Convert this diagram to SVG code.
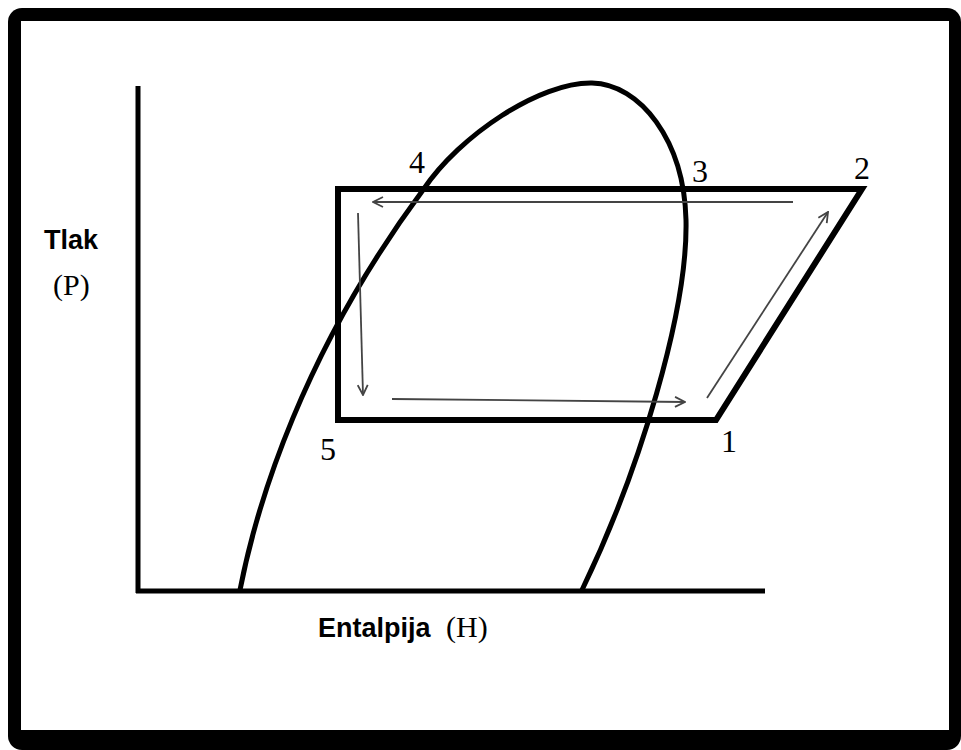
<svg xmlns="http://www.w3.org/2000/svg" width="961" height="750" viewBox="0 0 961 750">
  <style>
    .ax { stroke: #000; stroke-width: 5; fill: none; }
    .cyc { stroke: #000; stroke-width: 6; fill: none; stroke-linejoin: miter; }
    .dome { stroke: #000; stroke-width: 5; fill: none; }
    .arr { stroke: #444; stroke-width: 1.8; fill: none; marker-end: url(#open); }
    .num { font-family: "Liberation Serif", serif; font-size: 32px; fill: #000; text-anchor: middle; }
    .lbl { font-family: "Liberation Sans", Arial, sans-serif; font-weight: bold; font-size: 27px; fill: #000; }
    .paren { font-family: "Liberation Serif", serif; font-size: 30px; fill: #000; }
  </style>
  <defs>
    <marker id="open" viewBox="0 0 12 12" refX="11" refY="6" markerWidth="12" markerHeight="12" markerUnits="userSpaceOnUse" orient="auto">
      <path d="M1,1 L11,6 L1,11" fill="none" stroke="#444" stroke-width="1.8"/>
    </marker>
  </defs>
  <g id="frame">
    <rect x="8" y="8" width="953" height="742" rx="14" fill="#000"/>
    <rect x="21" y="21" width="928" height="709" fill="#fff"/>
  </g>
  <g id="axes">
    <line class="ax" x1="138" y1="86" x2="138" y2="593"/>
    <line class="ax" x1="136" y1="591" x2="765" y2="591"/>
  </g>
  <g id="dome">
    <path class="dome" d="M240,590 C257,503 303,352 423,190 C460,135 540,82 592,83 C640,84 684,140 686,220 C688,310 640,470 582,590"/>
  </g>
  <g id="cycle">
    <path class="cyc" d="M338,420 L338,189 L862,189 L716,420 Z"/>
  </g>
  <g id="connectors">
    <line class="arr" x1="793" y1="202" x2="373" y2="202"/>
    <line class="arr" x1="358" y1="213" x2="363" y2="395"/>
    <line class="arr" x1="392" y1="399" x2="685" y2="402"/>
    <line class="arr" x1="707" y1="398" x2="828" y2="212"/>
  </g>
  <g id="labels">
    <text class="num" x="417" y="173">4</text>
    <text class="num" x="700" y="182">3</text>
    <text class="num" x="862" y="179">2</text>
    <text class="num" x="729" y="452">1</text>
    <text class="num" x="328" y="460">5</text>
    <text class="lbl" x="44" y="249">Tlak</text>
    <text class="paren" x="53" y="295">(P)</text>
    <text class="lbl" x="318" y="637">Entalpija</text>
    <text class="paren" x="446" y="637">(H)</text>
  </g>
</svg>
